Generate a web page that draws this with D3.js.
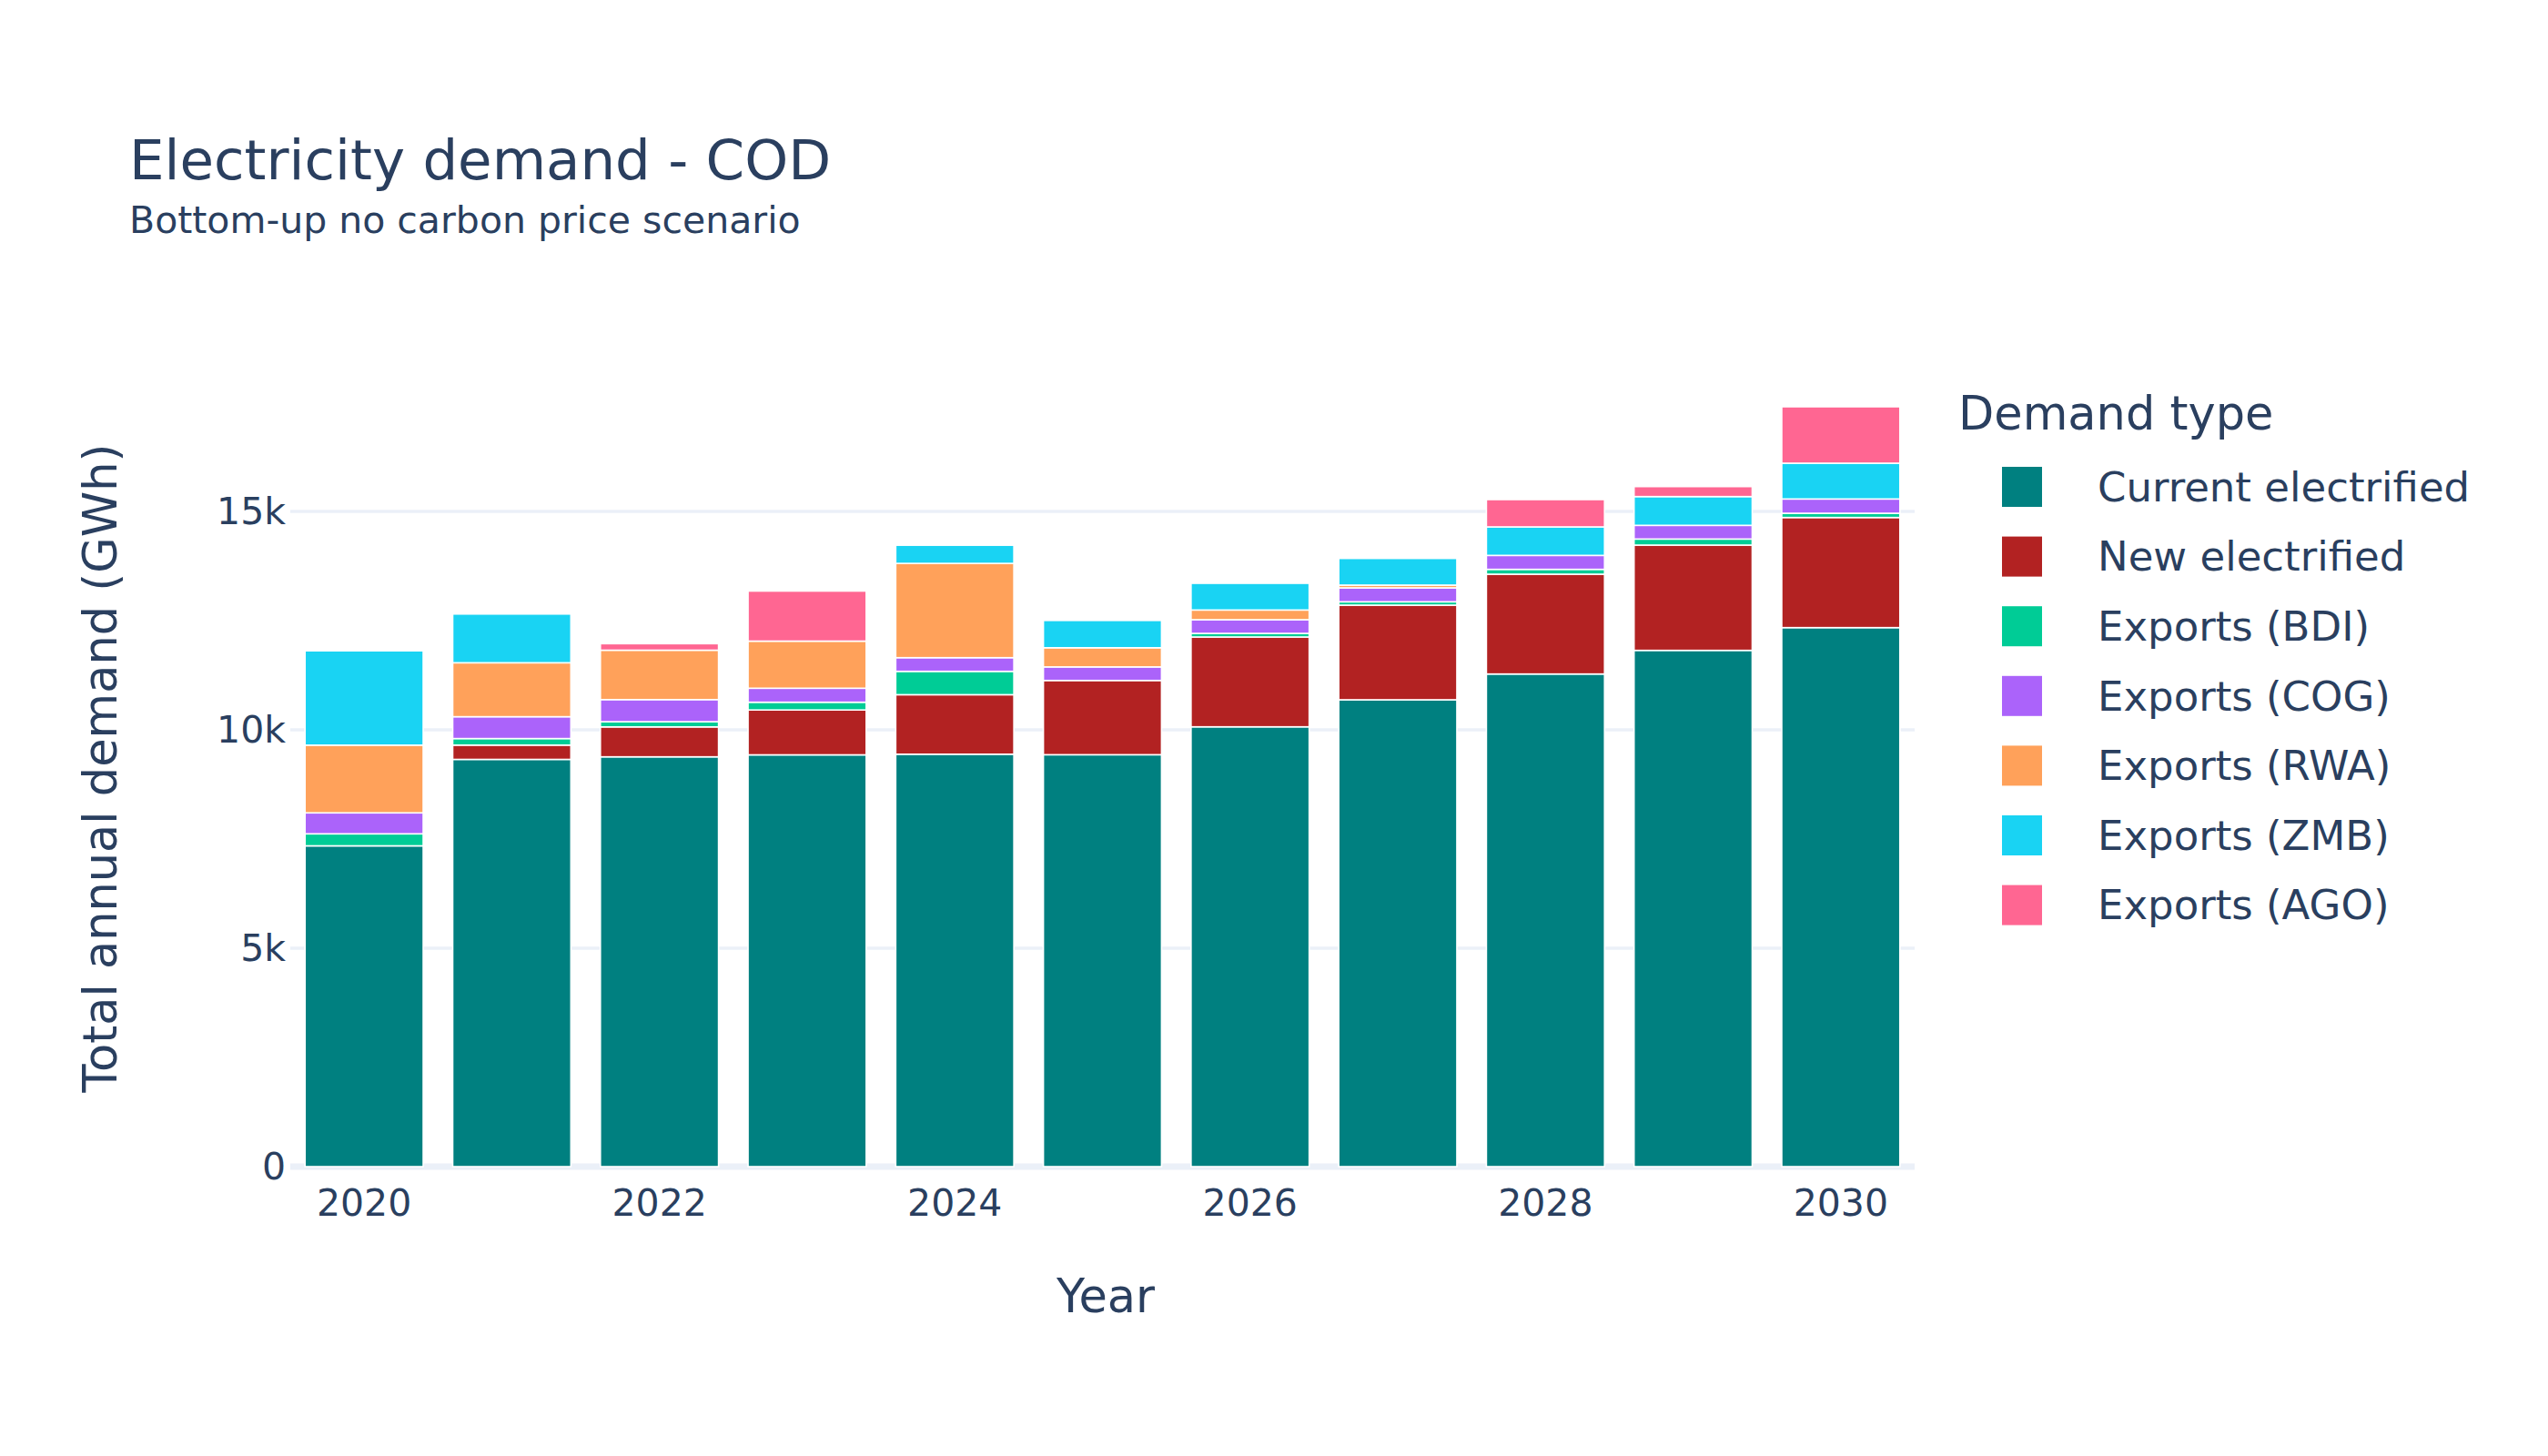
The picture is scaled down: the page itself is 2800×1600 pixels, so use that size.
<!DOCTYPE html>
<html><head><meta charset="utf-8">
<script src="https://cdn.jsdelivr.net/npm/d3@7"></script>
<style>body{margin:0;background:#fff}text{font-family:"DejaVu Sans",sans-serif;fill:#2a3f5f}</style>
</head><body><svg id="c" width="2800" height="1600"></svg>
<script>
const years = [2020,2021,2022,2023,2024,2025,2026,2027,2028,2029,2030];
const seriesNames = ["Current electrified","New electrified","Exports (BDI)","Exports (COG)","Exports (RWA)","Exports (ZMB)","Exports (AGO)"];
const colors = ["#008080","#B22222","#00CC96","#AB63FA","#FFA15A","#19D3F3","#FF6692"];
const current = [7344,9323,9382,9427,9442,9430,10069,10688,11278,11819,12340];
const newElec = [0,327,685,1027,1362,1700,2056,2166,2285,2410,2521];
const bdi = [275,150,119,178,535,0,83,77,111,139,97];
const cog = [480,500,506,320,313,310,313,319,319,313,327];
const rwa = [1550,1235,1131,1079,2158,439,222,63,0,0,0];
const zmb = [2160,1116,0,0,416,625,611,611,653,659,819];
const ago = [0,0,149,1146,0,0,0,0,625,229,1292];
const yTicks = [0,5000,10000,15000];
const yTickLabels = ["0","5k","10k","15k"];
const xTicks = [2020,2022,2024,2026,2028,2030];

const all = [current,newElec,bdi,cog,rwa,zmb,ago];
const rows = years.map((y,i)=>{const o={year:y};seriesNames.forEach((n,k)=>o[n]=all[k][i]);return o;});
const stack = d3.stack().keys(seriesNames)(rows);
const svg = d3.select("#c");
const L=319,R=2104,B=1282;
const x = d3.scaleBand().domain(years).range([L,R]).paddingInner(0.2).paddingOuter(0.1);
const y = d3.scaleLinear().domain([0,18300]).range([B,B-18300*0.048]);

svg.append("g").selectAll("line").data(yTicks.slice(1)).join("line")
 .attr("x1",L).attr("x2",R).attr("y1",d=>y(d)).attr("y2",d=>y(d)).attr("stroke","#EBF0F8").attr("stroke-width",3.5);
svg.append("line").attr("x1",L).attr("x2",R).attr("y1",y(0)).attr("y2",y(0)).attr("stroke","#EBF0F8").attr("stroke-width",7);

stack.forEach((s,k)=>{
 svg.append("g").attr("fill",colors[k]).selectAll("rect").data(s.filter(d=>d[1]-d[0]>0)).join("rect")
  .attr("x",d=>x(d.data.year)).attr("width",x.bandwidth())
  .attr("y",d=>y(d[1])).attr("height",d=>y(d[0])-y(d[1]))
  .attr("stroke","#fff").attr("stroke-width",1.6);
});

svg.append("g").selectAll("text").data(yTicks).join("text")
 .attr("x",314).attr("y",d=>y(d)).attr("dy","0.35em").attr("text-anchor","end").attr("font-size",41)
 .text((d,i)=>yTickLabels[i]);
svg.append("g").selectAll("text").data(xTicks).join("text")
 .attr("x",d=>x(d)+x.bandwidth()/2).attr("y",1336).attr("text-anchor","middle").attr("font-size",41).text(d=>d);

svg.append("text").attr("x",1215).attr("y",1442).attr("text-anchor","middle").attr("font-size",51).text("Year");
svg.append("text").attr("transform","translate(128,844) rotate(-90)").attr("text-anchor","middle").attr("font-size",51).text("Total annual demand (GWh)");
svg.append("text").attr("x",142).attr("y",197).attr("font-size",61).text("Electricity demand - COD");
svg.append("text").attr("x",142).attr("y",256).attr("font-size",41).text("Bottom-up no carbon price scenario");

const lg = svg.append("g");
lg.append("text").attr("x",2152).attr("y",472).attr("font-size",51).text("Demand type");
seriesNames.forEach((n,k)=>{
 const yy=535+k*76.6;
 lg.append("rect").attr("x",2200).attr("y",yy-22).attr("width",44).attr("height",44).attr("fill",colors[k]);
 lg.append("text").attr("x",2305).attr("y",yy).attr("dy","0.35em").attr("font-size",45).text(n);
});
</script></body></html>
